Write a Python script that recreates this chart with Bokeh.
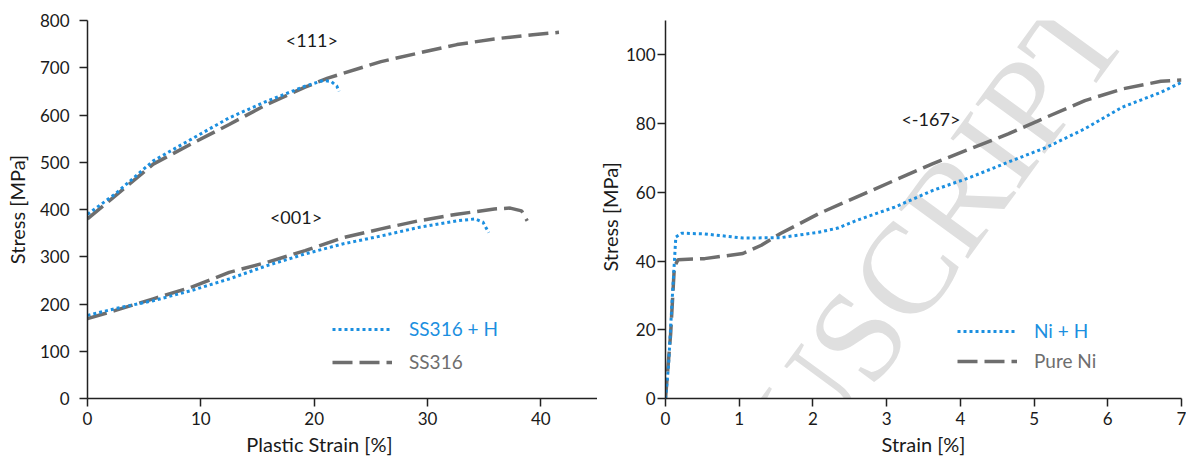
import math
from bokeh.plotting import figure
from bokeh.models import FixedTicker, Legend, LegendItem, Label, Range1d
from bokeh.layouts import row
from bokeh.embed import file_html
from bokeh.resources import INLINE
from bokeh.core.properties import value

# ---------------- data: left panel (SS316) ----------------
ss111_x = [0, 2.1, 5.8, 9.1, 12.5, 15.8, 19.2, 21.2, 25.9, 29.2, 32.6, 35.9, 39.3, 41.6]
ss111_y = [380, 422, 496, 538, 580, 622, 659, 678, 713, 731, 749, 761, 770, 775]
ssh111_x = [0, 2.4, 5.8, 9.1, 12.5, 15.8, 19.2, 20.8, 21.5, 22.0, 22.2]
ssh111_y = [390, 432, 503, 548, 594, 629, 661, 673, 671, 661, 650]
ss001_x = [0, 2.4, 5.8, 9.1, 12.5, 15.8, 19.2, 22.5, 25.9, 29.2, 32.6, 35.9, 37.3, 38.3, 38.8]
ss001_y = [169, 186, 211, 235, 267, 288, 313, 340, 359, 376, 390, 401, 403, 397, 376]
ssh001_x = [0, 2.4, 5.8, 9.1, 12.5, 15.8, 19.2, 22.5, 25.9, 29.2, 32.6, 34.2, 34.9, 35.4]
ssh001_y = [176, 190, 207, 228, 253, 281, 306, 327, 344, 362, 376, 380, 373, 351]
left_xticks = [0, 10, 20, 30, 40]
left_yticks = [0, 100, 200, 300, 400, 500, 600, 700, 800]

# ---------------- data: right panel (Ni) ----------------
ni_x = [0, 0.07, 0.12, 0.17, 0.53, 1.05, 1.3, 1.56, 2.08, 2.59, 3.11, 3.62, 4.14, 4.65, 5.17, 5.69, 6.2, 6.72, 7.0]
ni_y = [0, 18.9, 38.3, 40.4, 40.7, 42.2, 44.6, 48, 53.8, 58.6, 63.5, 68.3, 72.7, 77, 81.9, 86.7, 90.1, 92.3, 92.7]
nih_x = [0, 0.04, 0.09, 0.14, 0.22, 0.53, 1.05, 1.56, 2.08, 2.34, 2.59, 3.11, 3.62, 4.14, 4.65, 5.17, 5.69, 6.2, 6.72, 7.0]
nih_y = [0, 9.2, 28.6, 47, 48.1, 47.9, 46.7, 46.8, 48.4, 49.6, 51.8, 55.7, 60.5, 64.4, 68.8, 73.1, 78.5, 84.8, 89.1, 92]
right_xticks = [0, 1, 2, 3, 4, 5, 6, 7]
right_yticks = [0, 20, 40, 60, 80, 100]

BLUE = "#1b8fe0"
GRAY = "#6e6e6e"
FONT = "Lato"
TXT = "#1a1a1a"
NB = "\u00a0"


def style(p, xticks, yticks, ystandoff):
    p.outline_line_color = None
    p.xgrid.visible = False
    p.ygrid.visible = False
    p.xaxis.ticker = FixedTicker(ticks=xticks)
    p.yaxis.ticker = FixedTicker(ticks=yticks)
    for ax in (p.xaxis[0], p.yaxis[0]):
        ax.axis_line_color = "#222222"
        ax.axis_line_width = 1.5
        ax.major_tick_line_color = "#222222"
        ax.major_tick_line_width = 1.5
        ax.major_tick_out = 8
        ax.major_tick_in = 0
        ax.minor_tick_line_color = None
        ax.major_label_text_font = FONT
        ax.major_label_text_font_size = "17px"
        ax.major_label_text_color = TXT
        ax.axis_label_text_font = FONT
        ax.axis_label_text_font_size = "20px"
        ax.axis_label_text_font_style = "normal"
        ax.axis_label_text_color = TXT
    p.xaxis.major_label_standoff = 5
    p.xaxis.axis_label_standoff = 4
    p.yaxis.major_label_standoff = ystandoff


def add_legend(p, items, x0, bottoms):
    for (lab, r, col), yb in zip(items, bottoms):
        lg = Legend(items=[LegendItem(label=lab, renderers=[r])], location=(x0, yb))
        lg.glyph_width = 60
        lg.glyph_height = 20
        lg.label_height = 20
        lg.label_standoff = 17
        lg.padding = 0
        lg.margin = 0
        lg.border_line_color = None
        lg.background_fill_alpha = 0
        lg.label_text_font = FONT
        lg.label_text_font_size = "19px"
        lg.label_text_color = col
        p.add_layout(lg, "center")


# ---------------- left figure ----------------
p1 = figure(width=597, height=460, output_backend="svg", toolbar_location=None,
            x_range=Range1d(0, 45), y_range=Range1d(0, 800),
            min_border_left=87, min_border_right=0, min_border_top=19, min_border_bottom=62)
style(p1, left_xticks, left_yticks, 10)
p1.xaxis.axis_label = "Plastic Strain [%]" + NB * 9
p1.yaxis.axis_label = "Stress [MPa]"
p1.yaxis.axis_label_standoff = 8

r_ss111 = p1.line(ss111_x, ss111_y, line_color=GRAY, line_width=3.5, line_dash="20 7")
r_ssh111 = p1.line(ssh111_x, ssh111_y, line_color=BLUE, line_width=3, line_dash="3 3")
p1.line(ss001_x, ss001_y, line_color=GRAY, line_width=3.5, line_dash="20 7")
p1.line(ssh001_x, ssh001_y, line_color=BLUE, line_width=3, line_dash="3 3")

p1.text(x=[19.8, 18.4], y=[759, 385], text=["<111>", "<001>"], text_font=value(FONT),
        text_font_size="18px", text_color=TXT, text_align="center", text_baseline="middle")

add_legend(p1, [("SS316 + H", r_ssh111, BLUE), ("SS316", r_ss111, GRAY)], 245, (58, 25))

# ---------------- narrow strip holding the right panel's y-axis title ----------------
ps = figure(width=25, height=460, output_backend="svg", toolbar_location=None,
            x_range=Range1d(0, 1), y_range=Range1d(0, 460),
            x_axis_type=None, y_axis_type=None, min_border=0)
ps.outline_line_color = None
ps.text(x=[0.5], y=[221], text=["Stress [MPa]"], angle=math.pi / 2,
        text_font=value(FONT), text_font_size="20px", text_color=TXT,
        text_align="center", text_baseline="middle")

# ---------------- right figure ----------------
p2 = figure(width=564, height=460, output_backend="svg", toolbar_location=None,
            x_range=Range1d(0, 7), y_range=Range1d(0, 110),
            min_border_left=43, min_border_right=5, min_border_top=20, min_border_bottom=62)
style(p2, right_xticks, right_yticks, 2)
p2.xaxis.axis_label = "Strain [%]"

wm = Label(x=3.7, y=50.5, text="USCRIPT", angle=0.94, angle_units="rad",
           text_font="Liberation Serif", text_font_size="130px", text_color="#dfdfdf",
           text_align="center", text_baseline="middle", level="underlay")
p2.add_layout(wm)

r_ni = p2.line(ni_x, ni_y, line_color=GRAY, line_width=3.5, line_dash="20 7")
r_nih = p2.line(nih_x, nih_y, line_color=BLUE, line_width=3, line_dash="3 3")

p2.text(x=[3.6], y=[81.3], text=["<-167>"], text_font=value(FONT),
        text_font_size="18px", text_color=TXT, text_align="center", text_baseline="middle")

add_legend(p2, [("Ni + H", r_nih, BLUE), ("Pure Ni", r_ni, GRAY)], 292, (56, 26))

layout = row(p1, ps, p2, spacing=0)
open("out.html", "w").write(file_html(layout, INLINE))
